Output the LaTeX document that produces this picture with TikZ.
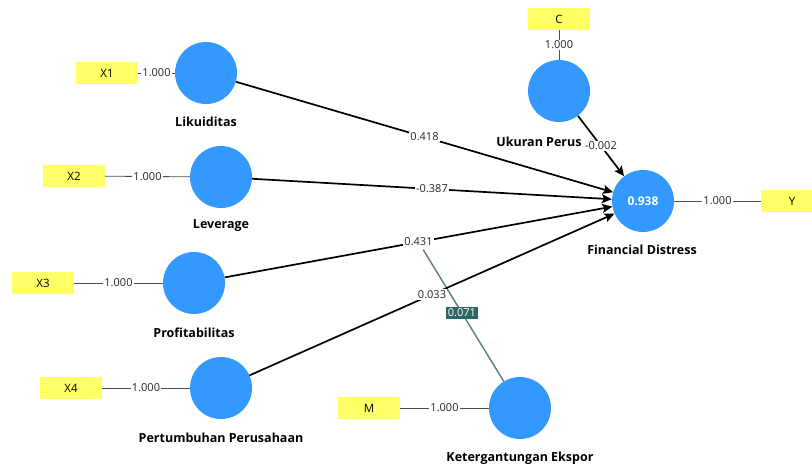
\documentclass[tikz,border=0pt]{standalone}
\usepackage{fontspec}
\setmainfont{Open Sans}
\usetikzlibrary{arrows.meta,calc}
\definecolor{lvblue}{HTML}{3399FF}
\definecolor{indyel}{HTML}{FFFF66}
\definecolor{modteal}{HTML}{2F6563}
\definecolor{modline}{HTML}{4E8280}
\begin{document}
\begin{tikzpicture}[x=1pt,y=-1pt,
 lv/.style={circle,fill=lvblue,minimum size=62pt,inner sep=0pt},
 ind/.style={fill=indyel,minimum width=62pt,minimum height=22pt,inner sep=0pt,font=\fontsize{11.5}{13}\selectfont},
 lvlabel/.style={font=\fontsize{12.5}{14}\selectfont\bfseries},
 meas/.style={draw=black!70,line width=0.8pt},
 structedge/.style={draw=black,line width=1.7pt,-{Stealth[length=10pt,width=9pt,inset=2pt]}},
 elabel/.style={fill=white,inner sep=1pt,font=\fontsize{11}{13}\selectfont,text=black!85},
]
\useasboundingbox (0,0) rectangle (812,469);
\clip (0,0) rectangle (812,469);
% latent variables
\node[lv] (lik) at (206,73) {};
\node[lv] (lev) at (221,177) {};
\node[lv] (prof) at (194,283) {};
\node[lv] (pert) at (221,388) {};
\node[lv] (uk) at (559,91) {};
\node[lv,text=white,font=\fontsize{12}{14}\selectfont\bfseries] (fd) at (643,201) {0.938};
\node[lv] (ket) at (520,408) {};
% indicators
\node[ind] (x1) at (107,73) {X1};
\node[ind] (x2) at (74,176) {X2};
\node[ind] (x3) at (43,283) {X3};
\node[ind] (x4) at (71,388) {X4};
\node[ind] (c) at (559,19) {C};
\node[ind] (y) at (792,201) {Y};
\node[ind] (m) at (369,408) {M};
% labels
\node[lvlabel] (likl) at (206,122) {Likuiditas};
\node[lvlabel] (levl) at (221,226) {Leverage};
\node[lvlabel] (profl) at (194,333) {Profitabilitas};
\node[lvlabel] (pertl) at (221,438) {Pertumbuhan Perusahaan};
\node[lvlabel] (ukl) at (539,142) {Ukuran Perus};
\node[lvlabel] (fdl) at (642,250) {Financial Distress};
\node[lvlabel] (ketl) at (520,458) {Ketergantungan Ekspor};
% measurement
\draw[meas] (x1) -- node[elabel]{1.000} (lik);
\draw[meas] (x2) -- node[elabel]{1.000} (lev);
\draw[meas] (x3) -- node[elabel]{1.000} (prof);
\draw[meas] (x4) -- node[elabel]{1.000} (pert);
\draw[meas] (c) -- node[elabel]{1.000} (uk);
\draw[meas] (fd) -- node[elabel]{1.000} (y);
\draw[meas] (m) -- node[elabel]{1.000} (ket);
% moderation
\coordinate (mid) at ($(prof)!0.5!(fd)$);
\draw[modline,line width=1.4pt,shorten >=9pt] (ket) -- node[pos=0.49,fill=modteal,text=white,inner sep=2pt,font=\fontsize{11}{13}\selectfont]{0.071} (mid);
% structural
\draw[structedge] (lik) -- node[elabel]{0.418} (fd);
\draw[structedge] (lev) -- node[elabel]{-0.387} (fd);
\draw[structedge] (prof) -- node[elabel]{0.431} (fd);
\draw[structedge] (pert) -- node[elabel]{0.033} (fd);
\draw[structedge] (uk) -- node[elabel]{-0.002} (fd);
\end{tikzpicture}
\end{document}
